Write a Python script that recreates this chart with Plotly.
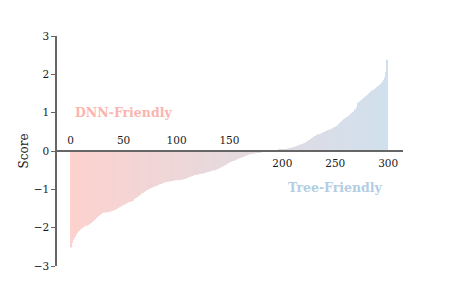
import plotly.graph_objects as go

# Sorted per-dataset scores
scores = [
    -2.52, -2.40, -2.32, -2.27, -2.23, -2.18, -2.14, -2.10, -2.08, -2.05,
    -2.03, -2.01, -1.99, -1.97, -1.96, -1.95, -1.93, -1.91, -1.89, -1.87,
    -1.85, -1.83, -1.80, -1.78, -1.75, -1.73, -1.70, -1.68, -1.66, -1.64,
    -1.62, -1.61, -1.61, -1.60, -1.60, -1.59, -1.59, -1.58, -1.57, -1.56,
    -1.55, -1.54, -1.53, -1.52, -1.50, -1.49, -1.47, -1.46, -1.44, -1.42,
    -1.40, -1.38, -1.37, -1.35, -1.34, -1.33, -1.32, -1.32, -1.31, -1.30,
    -1.25, -1.23, -1.22, -1.20, -1.18, -1.17, -1.14, -1.10, -1.09, -1.07,
    -1.05, -1.03, -1.02, -1.00, -0.99, -0.97, -0.96, -0.95, -0.94, -0.93,
    -0.92, -0.91, -0.90, -0.89, -0.87, -0.86, -0.85, -0.83, -0.82, -0.81,
    -0.81, -0.80, -0.80, -0.79, -0.79, -0.78, -0.78, -0.77, -0.77, -0.76,
    -0.76, -0.76, -0.75, -0.75, -0.75, -0.74, -0.74, -0.73, -0.73, -0.72,
    -0.70, -0.69, -0.68, -0.67, -0.66, -0.65, -0.64, -0.63, -0.62, -0.61,
    -0.61, -0.60, -0.60, -0.59, -0.59, -0.58, -0.58, -0.57, -0.56, -0.55,
    -0.54, -0.54, -0.53, -0.52, -0.51, -0.51, -0.50, -0.49, -0.47, -0.46,
    -0.45, -0.44, -0.42, -0.41, -0.40, -0.38, -0.37, -0.35, -0.33, -0.32,
    -0.30, -0.29, -0.28, -0.26, -0.25, -0.24, -0.23, -0.21, -0.20, -0.19,
    -0.18, -0.17, -0.16, -0.15, -0.14, -0.13, -0.12, -0.11, -0.10, -0.09,
    -0.08, -0.08, -0.07, -0.06, -0.06, -0.05, -0.05, -0.04, -0.03, -0.03,
    -0.02, -0.02, -0.02, -0.01, -0.01, -0.01, -0.01, 0.00, 0.00, 0.00,
    0.00, 0.01, 0.01, 0.01, 0.02, 0.02, 0.02, 0.03, 0.03, 0.04,
    0.04, 0.04, 0.05, 0.05, 0.06, 0.06, 0.07, 0.07, 0.08, 0.09,
    0.09, 0.10, 0.11, 0.12, 0.13, 0.14, 0.15, 0.16, 0.17, 0.18,
    0.20, 0.21, 0.23, 0.24, 0.26, 0.28, 0.29, 0.31, 0.33, 0.35,
    0.37, 0.39, 0.40, 0.42, 0.43, 0.44, 0.45, 0.47, 0.48, 0.49,
    0.50, 0.52, 0.53, 0.54, 0.55, 0.56, 0.57, 0.58, 0.59, 0.61,
    0.62, 0.63, 0.66, 0.70, 0.73, 0.75, 0.78, 0.80, 0.83, 0.85,
    0.87, 0.88, 0.90, 0.92, 0.94, 0.97, 0.99, 1.01, 1.03, 1.08,
    1.15, 1.25, 1.27, 1.29, 1.32, 1.34, 1.36, 1.38, 1.40, 1.43,
    1.45, 1.47, 1.50, 1.52, 1.55, 1.57, 1.59, 1.62, 1.64, 1.66,
    1.68, 1.70, 1.72, 1.75, 1.78, 1.81, 1.85, 1.92, 2.07, 2.38,
]
indices = list(range(len(scores)))

xticks_top = [0, 50, 100, 150]
xticks_bottom = [200, 250, 300]
yticks = [-3, -2, -1, 0, 1, 2, 3]

labels = ["DNN-Friendly", "Tree-Friendly"]
label_x = [50, 250]
label_y = [1.0, -0.94]

c_start = (251, 180, 174)  # #fbb4ae
c_end = (179, 205, 227)    # #b3cde3

def mix(t):
    r = [round(a + (b - a) * t) for a, b in zip(c_start, c_end)]
    return f"rgb({r[0]},{r[1]},{r[2]})"

n = len(scores)
colors = [mix(i / (n - 1)) for i in range(n)]

FONT = "DejaVu Serif"
AX = "#666666"

fig = go.Figure()
fig.add_trace(go.Bar(x=indices, y=scores, marker=dict(color=colors, line=dict(width=0)),
                     opacity=0.6, showlegend=False, hoverinfo="skip"))
fig.add_trace(go.Scatter(x=[0], y=[0], xaxis="x2", mode="markers",
                         marker=dict(opacity=0), showlegend=False, hoverinfo="skip"))

for txt, x, y, col in zip(labels, label_x, label_y, ["#fbb4ae", "#b3cde3"]):
    fig.add_annotation(x=x, y=y, text=txt, showarrow=False,
                       font=dict(family=FONT, size=12.5, color=col, weight="bold"))

xr = [-13.9, 314]
fig.update_layout(
    width=441, height=291,
    margin=dict(l=48, r=46, t=28, b=33),
    plot_bgcolor="white", paper_bgcolor="white",
    bargap=0.2,
    font=dict(family=FONT, size=10.5, color="#1a1a1a"),
    xaxis=dict(range=xr, anchor="free", position=0.5, side="bottom",
               showline=True, linecolor=AX, linewidth=1.5, automargin=False,
               tickvals=xticks_bottom, ticks="outside", ticklen=3,
               tickcolor="rgba(0,0,0,0)", showgrid=False, zeroline=False),
    xaxis2=dict(range=xr, overlaying="x", anchor="free", position=0.5, side="top",
                showline=False, tickvals=xticks_top, ticks="outside", ticklen=3,
                automargin=False,
                tickcolor="rgba(0,0,0,0)", showgrid=False, zeroline=False),
    yaxis=dict(range=[-3, 3], anchor="free", position=0, tickvals=yticks,
               showline=True, linecolor=AX, linewidth=1.5, automargin=False,
               ticks="outside", ticklen=4, tickcolor=AX, tickwidth=1,
               showgrid=False, zeroline=False,
               title=dict(text="Score", font=dict(size=12), standoff=1)),
)

fig.write_html("out.html")
